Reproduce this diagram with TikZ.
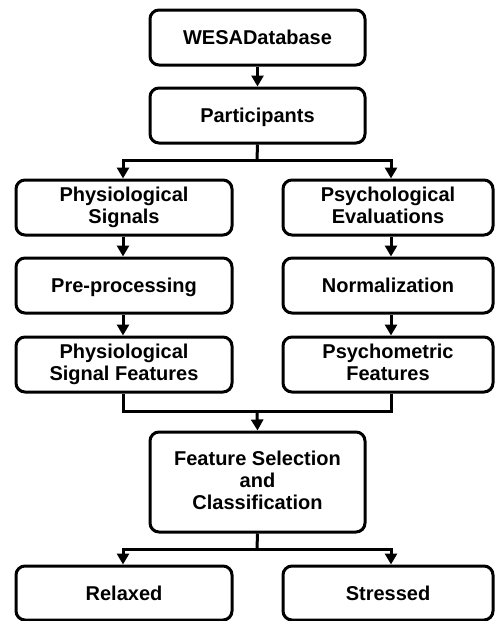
\documentclass[tikz,border=0pt]{standalone}
\usepackage{fontspec}
\setmainfont{Liberation Sans}
\usetikzlibrary{arrows.meta}
\begin{document}
\begin{tikzpicture}[x=1pt,y=-1pt,
  box/.style={draw=black, line width=3pt, rounded corners=9pt, align=center,
    inner sep=0pt, font=\fontsize{20}{22}\selectfont\bfseries,
    execute at begin node={\rule{0pt}{18.5pt}},
    execute at end node={\rule[-4.5pt]{0pt}{4.5pt}}},
  conn/.style={line width=3pt},
  arr/.style={line width=3pt, -{Triangle[width=12pt,length=11pt]}}]
\useasboundingbox (0,0) rectangle (495,621);
% boxes
\node[box, minimum width=215pt, minimum height=55pt] (wesa) at (257.5,37.5) {WESADatabase};
\node[box, minimum width=215pt, minimum height=55pt] (part) at (257.5,115.5) {Participants};
\node[box, minimum width=216pt, minimum height=55pt] (ps) at (124,207.5) {Physiological\\Signals};
\node[box, minimum width=210pt, minimum height=55pt] (pe) at (388,207.5) {Psychological\\Evaluations};
\node[box, minimum width=216pt, minimum height=55pt] (pp) at (124,285.5) {Pre-processing};
\node[box, minimum width=210pt, minimum height=55pt] (nm) at (388,285.5) {Normalization};
\node[box, minimum width=216pt, minimum height=55pt] (psf) at (124,364.5) {Physiological\\Signal Features};
\node[box, minimum width=210pt, minimum height=55pt] (pf) at (388,364.5) {Psychometric\\Features};
\node[box, minimum width=215pt, minimum height=100pt] (fs) at (257.5,482) {Feature Selection\\and\\Classification};
\node[box, minimum width=216pt, minimum height=54pt] (rel) at (124,593) {Relaxed};
\node[box, minimum width=210pt, minimum height=54pt] (str) at (388,593) {Stressed};
% junction coordinates
\coordinate (j1) at (257,160);
\coordinate (j1l) at (123,160);
\coordinate (j1r) at (391,160);
\coordinate (j2l) at (123,411);
\coordinate (j2r) at (391,411);
\coordinate (j2) at (257,411);
\coordinate (j3) at (257,549);
\coordinate (j3l) at (123,549);
\coordinate (j3r) at (391,549);
% connectors
\draw[arr] (wesa.south) -- (part.north);
\draw[conn] (part.south) -- (j1);
\draw[arr] (j1) -- (j1l) -- (j1l |- ps.north);
\draw[arr] (j1) -- (j1r) -- (j1r |- pe.north);
\draw[arr] (ps.south -| j1l) -- (pp.north -| j1l);
\draw[arr] (pe.south -| j1r) -- (nm.north -| j1r);
\draw[arr] (pp.south -| j1l) -- (psf.north -| j1l);
\draw[arr] (nm.south -| j1r) -- (pf.north -| j1r);
\draw[conn] (psf.south -| j2l) -- (j2l) -- (j2r) -- (pf.south -| j2r);
\draw[arr] (j2) -- (fs.north);
\draw[conn] (fs.south) -- (j3);
\draw[arr] (j3) -- (j3l) -- (j3l |- rel.north);
\draw[arr] (j3) -- (j3r) -- (j3r |- str.north);
\end{tikzpicture}
\end{document}
